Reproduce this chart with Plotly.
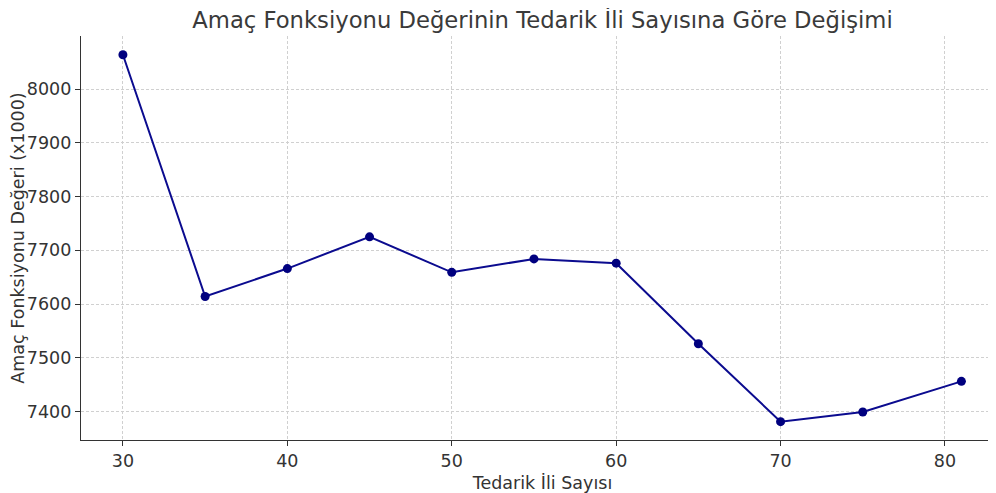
import plotly.graph_objects as go

supply_counts = [30, 35, 40, 45, 50, 55, 60, 65, 70, 75, 81]
objective_values = [8064, 7614, 7666, 7725, 7659, 7684, 7676, 7526, 7381, 7399, 7456]

x_ticks = [30, 40, 50, 60, 70, 80]
y_ticks = [7400, 7500, 7600, 7700, 7800, 7900, 8000]

title_text = "Amaç Fonksiyonu Değerinin Tedarik İli Sayısına Göre Değişimi"
x_label = "Tedarik İli Sayısı"
y_label = "Amaç Fonksiyonu Değeri (x1000)"

font_family = "DejaVu Sans"
text_color = "#333333"
tick_size = 17.5

# the page body adds an 8px offset; margins below compensate for it
fig = go.Figure()
fig.add_trace(go.Scatter(
    x=supply_counts,
    y=objective_values,
    mode="lines+markers",
    line=dict(color="#0b0b8f", width=2),
    marker=dict(color="#00007f", size=9),
    showlegend=False,
))

fig.update_layout(
    width=996,
    height=493,
    margin=dict(l=73, r=0, t=28, b=61),
    paper_bgcolor="white",
    plot_bgcolor="white",
    font=dict(family=font_family, color=text_color, size=tick_size),
    title=dict(
        text=title_text,
        x=0.5,
        xref="paper",
        xanchor="center",
        y=1 - 12 / 493,
        yref="container",
        yanchor="middle",
        font=dict(size=22.7, color="#3a3a3a", family=font_family),
    ),
)

common = dict(
    ticks="outside",
    ticklen=5,
    tickwidth=1,
    tickcolor="#333333",
    showline=True,
    linecolor="#333333",
    linewidth=1.2,
    showgrid=True,
    gridcolor="#d0d0d0",
    gridwidth=0.8,
    griddash="3px,2px",
    zeroline=False,
    automargin=False,
    tickfont=dict(size=tick_size, color=text_color),
)

fig.update_xaxes(
    range=[27.45, 83.59],
    tickvals=x_ticks,
    ticktext=[str(v) for v in x_ticks],
    title=dict(text=x_label, font=dict(size=tick_size, color=text_color), standoff=6),
    **common,
)

fig.update_yaxes(
    range=[7346.8, 8099],
    tickvals=y_ticks,
    ticktext=[str(v) for v in y_ticks],
    title=dict(text=y_label, font=dict(size=tick_size, color=text_color), standoff=6),
    **common,
)

fig.write_html("out.html")
